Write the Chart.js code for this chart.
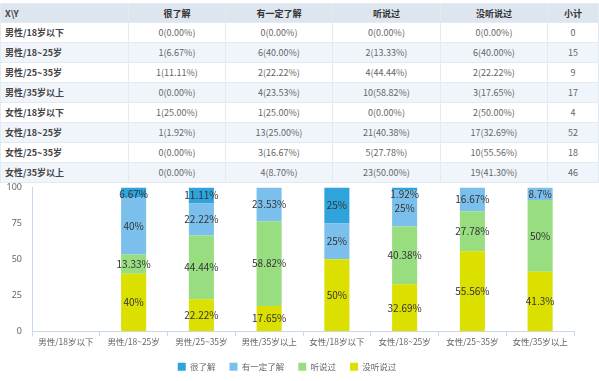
<!DOCTYPE html>
<html>
<head>
<meta charset="utf-8">
<script src="https://cdn.jsdelivr.net/npm/chart.js@4/dist/chart.umd.min.js"></script>
<style>
  html, body { margin: 0; padding: 0; background: #fff; width: 599px; height: 381px; overflow: hidden; }
  body { position: relative; font-family: "Noto Sans CJK SC", "Noto Sans", sans-serif; }
  table { position: absolute; left: 0; top: 3px; width: 598px; border-collapse: collapse; table-layout: fixed; font-size: 9px; }
  td, th { padding: 0; border: 1px solid #e3eaf1; text-align: center; color: #666; white-space: nowrap; overflow: hidden; }
  thead th { background: #dde6ef; color: #333; font-weight: bold; height: 18px; }
  tbody td { height: 19px; }
  tbody tr:nth-child(even) td { background: #eff5fb; }
  td.rl, th.rl { text-align: left; padding-left: 4px; color: #444; font-weight: bold; }
  #wrap { position: absolute; left: 0; top: 172px; width: 599px; height: 209px; }
</style>
</head>
<body>
<table id="tbl"></table>
<div id="wrap"><canvas id="c" width="599" height="209"></canvas></div>
<script>
const categories = ['男性/18岁以下','男性/18~25岁','男性/25~35岁','男性/35岁以上','女性/18岁以下','女性/18~25岁','女性/25~35岁','女性/35岁以上'];
const seriesNames = ['很了解','有一定了解','听说过','没听说过'];
const headerCorner = 'X\\Y';
const totalLabel = '小计';

const countVeryKnow = [0, 1, 1, 0, 1, 1, 0, 0];
const countSomeKnow = [0, 6, 2, 4, 1, 13, 3, 4];
const countHeard    = [0, 2, 4, 10, 0, 21, 5, 23];
const countNever    = [0, 6, 2, 3, 2, 17, 10, 19];
const totals        = [0, 15, 9, 17, 4, 52, 18, 46];

const pctVeryKnow = [0, 6.67, 11.11, 0, 25, 1.92, 0, 0];
const pctSomeKnow = [0, 40, 22.22, 23.53, 25, 25, 16.67, 8.7];
const pctHeard    = [0, 13.33, 44.44, 58.82, 0, 40.38, 27.78, 50];
const pctNever    = [0, 40, 22.22, 17.65, 50, 32.69, 55.56, 41.3];

const yTicks = [0, 25, 50, 75, 100];

const colors = ['#2fa3dc', '#7bc0ec', '#98de80', '#dbe000'];

// ---- table ----
(function buildTable(){
  const t = document.getElementById('tbl');
  const widths = [128, 97, 107, 108, 107, 51];
  let html = '<colgroup>' + widths.map(w => '<col style="width:' + w + 'px">').join('') + '</colgroup>';
  html += '<thead><tr><th class="rl">' + headerCorner + '</th>' + seriesNames.map(n => '<th>' + n + '</th>').join('') + '<th>' + totalLabel + '</th></tr></thead><tbody>';
  const counts = [countVeryKnow, countSomeKnow, countHeard, countNever];
  const pcts = [pctVeryKnow, pctSomeKnow, pctHeard, pctNever];
  categories.forEach((c, i) => {
    html += '<tr><td class="rl">' + c + '</td>';
    for (let s = 0; s < 4; s++) html += '<td>' + counts[s][i] + '(' + pcts[s][i].toFixed(2) + '%)</td>';
    html += '<td>' + totals[i] + '</td></tr>';
  });
  html += '</tbody>';
  t.innerHTML = html;
})();

// ---- chart ----
const labelPlugin = {
  id: 'segLabels',
  afterDatasetsDraw(chart) {
    const ctx = chart.ctx;
    const area = chart.chartArea;
    ctx.save();
    ctx.font = '10px "Noto Sans CJK SC", "Noto Sans", sans-serif';
    ctx.fillStyle = '#333';
    ctx.textAlign = 'center';
    ctx.textBaseline = 'middle';
    chart.data.datasets.forEach((ds, di) => {
      const meta = chart.getDatasetMeta(di);
      if (meta.hidden) return;
      meta.data.forEach((bar, i) => {
        const v = ds.data[i];
        if (!v) return;
        let y = (bar.y + bar.base) / 2;
        if (y < area.top + 7) y = area.top + 7;
        ctx.fillText(String(v) + '%', bar.x, y);
      });
    });
    ctx.restore();
  }
};

// stacking bottom-to-top: 没听说过, 听说过, 有一定了解, 很了解 ; legend reversed
const stackOrder = [3, 2, 1, 0];
const pctAll = [pctVeryKnow, pctSomeKnow, pctHeard, pctNever];

new Chart(document.getElementById('c'), {
  type: 'bar',
  data: {
    labels: categories,
    datasets: stackOrder.map(s => ({
      label: seriesNames[s],
      data: pctAll[s],
      backgroundColor: colors[s],
      borderWidth: 0,
      barPercentage: 0.37,
      categoryPercentage: 1
    }))
  },
  options: {
    responsive: false,
    animation: false,
    devicePixelRatio: 1,
    layout: { padding: { left: 0, right: 25, top: 13, bottom: 0 } },
    plugins: {
      tooltip: { enabled: false },
      legend: {
        position: 'bottom',
        reverse: true,
        labels: {
          boxWidth: 8, boxHeight: 8, padding: 14, color: '#666',
          font: { size: 8.5, family: '"Noto Sans CJK SC", "Noto Sans", sans-serif' }
        }
      }
    },
    scales: {
      x: {
        stacked: true,
        afterFit(scale) { scale.height += 2; },
        grid: { offset: true, drawOnChartArea: false, drawTicks: true, tickLength: 5, color: '#c8d8ec' },
        border: { display: true, color: '#c8d8ec' },
        ticks: { color: '#666', padding: 0, maxRotation: 0, autoSkip: false,
          font: { size: 8.5, family: '"Noto Sans CJK SC", "Noto Sans", sans-serif' } }
      },
      y: {
        stacked: true,
        min: yTicks[0], max: yTicks[yTicks.length - 1],
        afterBuildTicks(scale) { scale.ticks = yTicks.map(v => ({ value: v })); },
        afterFit(scale) { scale.width = 32; },
        grid: { display: false, drawTicks: false },
        border: { display: true, color: '#c8d8ec' },
        ticks: { color: '#666', padding: 10,
          font: { size: 9, family: '"Noto Sans", sans-serif' } }
      }
    }
  },
  plugins: [labelPlugin]
});
</script>
</body>
</html>
